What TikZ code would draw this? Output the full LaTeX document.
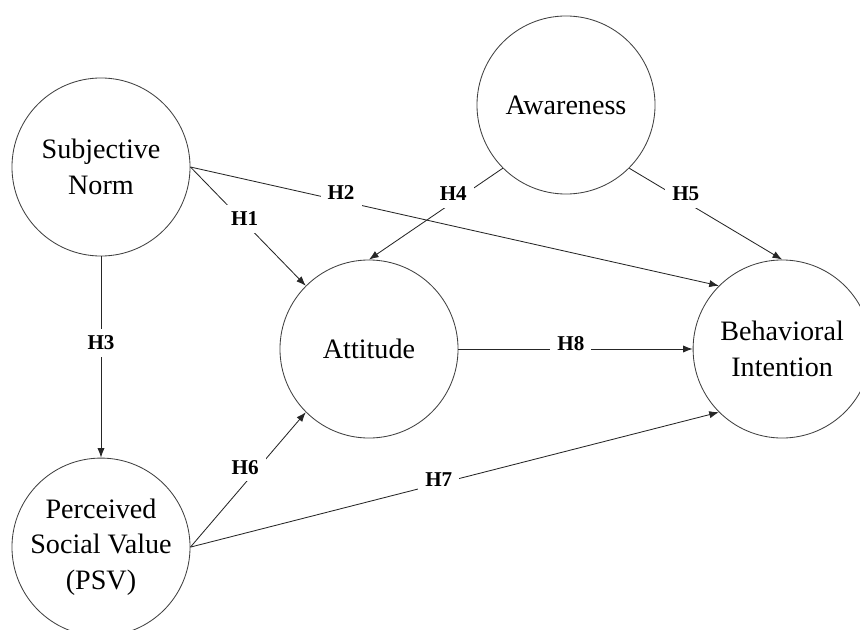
\documentclass[tikz,border=0pt]{standalone}
\usepackage{fontspec}
\setmainfont{Liberation Serif}
\usetikzlibrary{positioning,arrows.meta}

\begin{document}
\begin{tikzpicture}[x=0.025cm, y=-0.025cm, >={Latex[length=2.4mm,width=1.8mm]},
	main/.style={draw=black!75, line width=0.6pt, circle, minimum size=4.45cm, inner sep=0pt, align=center, font=\fontsize{20}{25.5}\selectfont},
	hyp/.style={fill=white, inner sep=5pt, font=\fontsize{15}{17}\selectfont\bfseries},
	link/.style={->, draw=black!85, line width=0.6pt}]
		\useasboundingbox (0,0) rectangle (860,630);
		\node[main] (sn) at (101,167) {Subjective\\Norm};
		\node[main] (aw) at (566,105) {Awareness};
		\node[main] (att) at (369,349) {Attitude};
		\node[main] (bi) [right of = att, node distance=10.325cm] {Behavioral\\Intention};
		\node[main] (psv) [below of = sn, node distance=9.5cm] {Perceived\\Social Value\\(PSV)};

		\draw[link] (sn.east) -- node[hyp, pos=0.47, yshift=3pt] {H1} (att.north west);
		\draw[link] (sn.east) -- node[hyp, pos=0.285, yshift=6pt] {H2} (bi.north west);
		\draw[link] (sn.south) -- node[hyp, pos=0.43] {H3} (psv.north);
		\draw[link] (aw.south west) -- node[hyp, pos=0.37, yshift=6pt] {H4} (att.north);
		\draw[link] (aw.south east) -- node[hyp, pos=0.37, yshift=6pt] {H5} (bi.north);
		\draw[link] (psv.east) -- node[hyp, pos=0.56, xshift=-7pt, yshift=3pt] {H6} (att.south west);
		\draw[link] (psv.east) -- node[hyp, pos=0.47, yshift=3pt] {H7} (bi.south west);
		\draw[link] (att.east) -- node[hyp, pos=0.48, yshift=4pt] {H8} (bi.west);
	\end{tikzpicture}
\end{document}
